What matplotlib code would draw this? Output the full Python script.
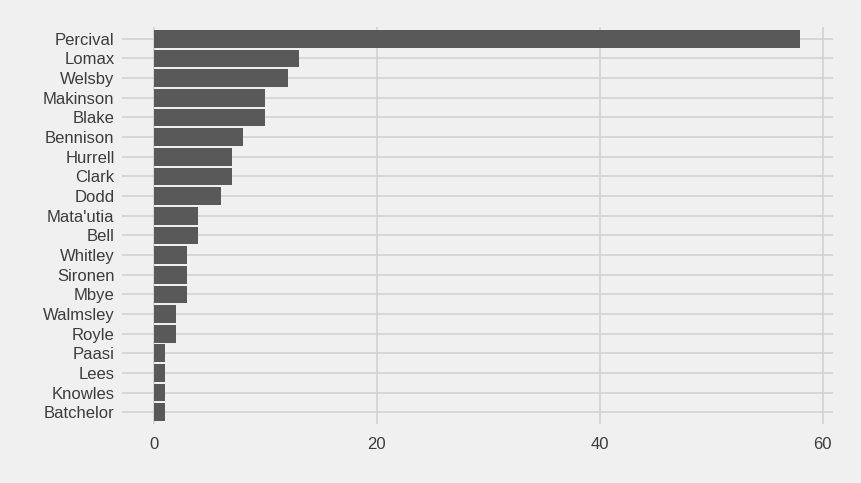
import matplotlib
matplotlib.use("Agg")
import matplotlib.pyplot as plt

names = ["Percival","Lomax","Welsby","Makinson","Blake","Bennison","Hurrell","Clark","Dodd",
         "Mata'utia","Bell","Whitley","Sironen","Mbye","Walmsley","Royle","Paasi","Lees","Knowles","Batchelor"]
values = [58,13,12,10,10,8,7,7,6,4,4,3,3,3,2,2,1,1,1,1]

plt.rcParams['font.family'] = ['Liberation Sans', 'DejaVu Sans']
bg = "#F0F0F0"
fig = plt.figure(figsize=(8.62,4.83), dpi=100, facecolor=bg)
ax = fig.add_axes([0.141,0.122,0.825,0.822], facecolor=bg)
n = len(names)
ypos = list(range(n-1,-1,-1))
ax.barh(ypos, values, height=0.9, color="#595959", zorder=2)
ax.set_yticks(ypos)
ax.set_yticklabels(names)
ax.set_xticks([0,20,40,60])
ax.set_xlim(-2.9,60.9)
ax.set_ylim(-0.6,n-0.4)
ax.grid(True, color="#D2D2D2", linewidth=1.2, zorder=0)
for s in ax.spines.values():
    s.set_visible(False)
ax.tick_params(length=0, labelsize=12, labelcolor="#3C3C3C", pad=5)
ax.tick_params(axis="x", pad=9)
fig.savefig("out.png", dpi=100, facecolor=bg)
